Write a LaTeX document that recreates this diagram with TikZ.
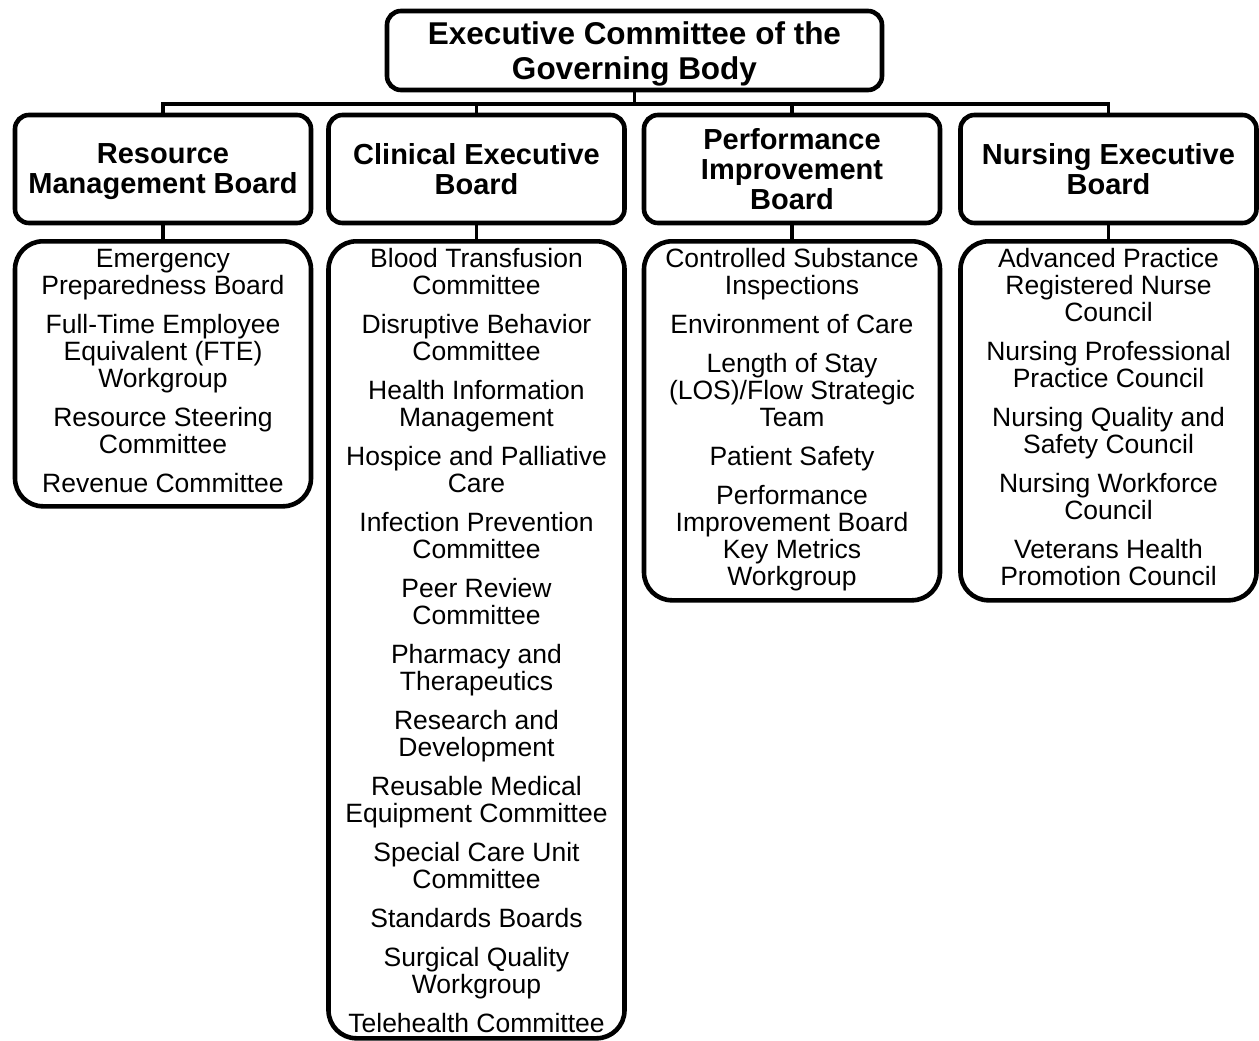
\documentclass[tikz,border=0pt]{standalone}
\usepackage{fontspec}
\setmainfont{Liberation Sans}
\usetikzlibrary{positioning}

\newcommand{\sublist}[2]{\parbox[t][#1][t]{290pt}{\centering\rule{0pt}{25.5pt}#2}}

\begin{document}
\begin{tikzpicture}[x=1pt,y=-1pt]
\tikzstyle{box}=[draw, line width=4.6pt, rounded corners=14pt, align=center, inner sep=0pt, text depth=0pt]
\tikzstyle{board}=[box, minimum width=296pt, minimum height=108pt, font=\fontsize{29}{30}\selectfont\bfseries]
\tikzstyle{list}=[draw, line width=4.6pt, rounded corners=28pt, anchor=north, inner xsep=3pt, inner ysep=0.5pt, minimum width=296pt, font=\fontsize{26.5}{27}\selectfont]
\tikzstyle{conn}=[line width=3.8pt]

\useasboundingbox (0,0) rectangle (1259,1041);

\node[box, minimum width=495pt, minimum height=79pt, font=\fontsize{31.5}{35}\selectfont\bfseries] (T) at (634.5,50.5) {Executive Committee of the\\Governing Body};

\node[board] (R) at (163,169) {Resource\\Management Board};
\node[board] (C) at (476.5,169) {Clinical Executive\\Board};
\node[board] (P) at (792,169) {Performance\\Improvement\\Board};
\node[board] (N) at (1108.5,169) {Nursing Executive\\Board};

\node[list] (RL) at (163,239) {\sublist{264pt}{Emergency\\Preparedness Board\\[12pt]
  Full-Time Employee\\Equivalent (FTE)\\Workgroup\\[12pt]
  Resource Steering\\Committee\\[12pt]
  Revenue Committee}};
\node[list] (CL) at (476.5,239) {\sublist{796pt}{Blood Transfusion\\Committee\\[12pt]
  Disruptive Behavior\\Committee\\[12pt]
  Health Information\\Management\\[12pt]
  Hospice and Palliative\\Care\\[12pt]
  Infection Prevention\\Committee\\[12pt]
  Peer Review\\Committee\\[12pt]
  Pharmacy and\\Therapeutics\\[12pt]
  Research and\\Development\\[12pt]
  Reusable Medical\\Equipment Committee\\[12pt]
  Special Care Unit\\Committee\\[12pt]
  Standards Boards\\[12pt]
  Surgical Quality\\Workgroup\\[12pt]
  Telehealth Committee}};
\node[list] (PL) at (792,239) {\sublist{358pt}{Controlled Substance\\Inspections\\[12pt]
  Environment of Care\\[12pt]
  Length of Stay\\(LOS)/Flow Strategic\\Team\\[12pt]
  Patient Safety\\[12pt]
  Performance\\Improvement Board\\Key Metrics\\Workgroup}};
\node[list] (NL) at (1108.5,239) {\sublist{358pt}{Advanced Practice\\Registered Nurse\\Council\\[12pt]
  Nursing Professional\\Practice Council\\[12pt]
  Nursing Quality and\\Safety Council\\[12pt]
  Nursing Workforce\\Council\\[12pt]
  Veterans Health\\Promotion Council}};

\foreach \j in {R,C,P,N}{\draw[conn] (T.south) -- ++(0,12) -| (\j.north);}
\foreach \i/\j in {R/RL,C/CL,P/PL,N/NL}{\draw[conn] (\i) -- (\j);}
\end{tikzpicture}
\end{document}
